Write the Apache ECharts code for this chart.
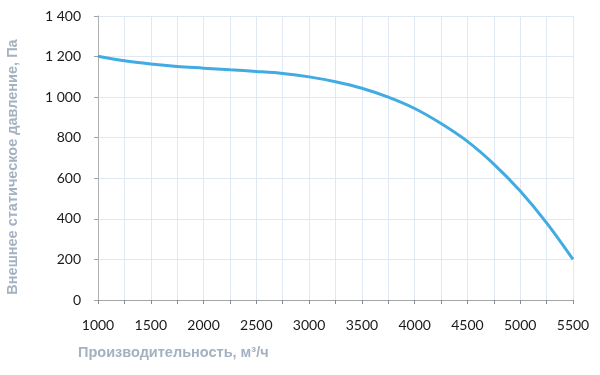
<!DOCTYPE html>
<html><head><meta charset="utf-8">
<script src="https://cdn.jsdelivr.net/npm/echarts@6/dist/echarts.min.js"></script>
<style>html,body{margin:0;padding:0;background:#fff}#c{width:600px;height:375px}</style>
</head><body><div id="c"></div>
<script>
const flow = [1000,1250,1500,1750,2000,2250,2500,2750,3000,3250,3500,3750,4000,4250,4500,4750,5000,5250,5500];
const pressure = [1202,1179,1163,1151,1143,1135,1127,1117,1100,1076,1044,1000,944,870,782,670,537,380,200];
const xTitle = 'Производительность, м³/ч';
const yTitle = 'Внешнее статическое давление, Па';

const chart = echarts.init(document.getElementById('c'));
chart.setOption({
  animation: false,
  grid: {left: 98, right: 27, top: 16, bottom: 75, outerBoundsMode: 'none', containLabel: false},
  xAxis: {
    type: 'value', min: 1000, max: 5500, interval: 250,
    axisLine: {lineStyle: {color: '#a6a6a6', width: 1}},
    axisTick: {show: true, length: 4, lineStyle: {color: '#8c8c8c'}},
    axisLabel: {margin: 18, color: '#1a1a1a', fontFamily: 'Lato', fontSize: 14,
      formatter: v => (v % 500 === 0 ? String(v) : '')},
    splitLine: {show: true, lineStyle: {color: '#dfe8f4', width: 1}}
  },
  yAxis: {
    type: 'value', min: 0, max: 1400, interval: 200,
    axisLine: {show: true, lineStyle: {color: '#b0b0b0', width: 1}},
    axisTick: {show: true, length: 4, lineStyle: {color: '#a0a0a0'}},
    axisLabel: {margin: 17, color: '#1a1a1a', fontFamily: 'Lato', fontSize: 14,
      formatter: v => (v >= 1000 ? Math.floor(v/1000) + ' ' + String(v%1000).padStart(3,'0') : String(v))},
    splitLine: {show: true, lineStyle: {color: '#dfe8f4', width: 1}}
  },
  graphic: [{
    type: 'text', left: 78, top: 345,
    style: {text: xTitle, fill: '#a3b1c0', font: 'bold 14.5px "Liberation Sans"'}
  }, {
    type: 'text', x: 13, y: 167, rotation: Math.PI / 2,
    style: {text: yTitle, fill: '#a3b1c0', font: 'bold 14.5px "Liberation Sans"',
      align: 'center', verticalAlign: 'middle'}
  }],
  series: [{
    type: 'line', smooth: 0.35, symbol: 'none',
    data: flow.map((f,i) => [f, pressure[i]]),
    lineStyle: {color: '#41abe2', width: 3}
  }]
});
</script></body></html>
